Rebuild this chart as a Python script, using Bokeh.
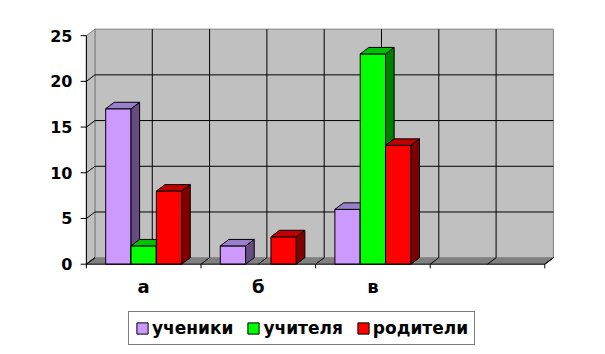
from bokeh.plotting import figure
from bokeh.models import Range1d, FixedTicker, Legend, LegendItem
from bokeh.embed import file_html
from bokeh.resources import INLINE

# ---- data ----
categories = ["а", "б", "в", ""]
series_names = ["ученики", "учителя", "родители"]
pupils = [17, 2, 6, None]
teachers = [2, 0, 23, None]
parents = [8, 3, 13, None]
y_ticks = [0, 5, 10, 15, 20, 25]

front_colors = ["#CC99FF", "#00FF00", "#FF0000"]
side_colors = ["#664C80", "#008000", "#800000"]
top_colors = ["#9980CC", "#00C000", "#C00000"]

series = [pupils, teachers, parents]
n_cat = len(categories)
y_max = max(y_ticks)

# 3D geometry (data units)
DX = 0.075
DY = 0.71
W = 0.221
OFF = (1 - len(series) * W) / 2

FONT = "DejaVu Sans"

p = figure(width=605, height=354,
           x_range=Range1d(-0.06, 4.102), y_range=Range1d(-9.877, 26.0),
           output_backend="svg", toolbar_location=None,
           min_border_left=79, min_border_right=49,
           min_border_top=26, min_border_bottom=0)
p.outline_line_color = None
p.grid.visible = False
p.background_fill_color = "white"

# back wall
p.patch([DX, n_cat + DX, n_cat + DX, DX], [DY, DY, y_max + DY, y_max + DY],
        fill_color="#C0C0C0", line_color="#808080", line_width=1)
# side wall
p.patch([0, DX, DX, 0], [0, DY, y_max + DY, y_max],
        fill_color="#C0C0C0", line_color="#808080", line_width=1)
# floor
p.patch([0, n_cat, n_cat + DX, DX], [0, 0, DY, DY],
        fill_color="#808080", line_color=None)

# horizontal gridlines on back wall and side wall
inner = [v for v in y_ticks if 0 < v < y_max]
p.segment(x0=[DX] * len(inner), y0=[v + DY for v in inner],
          x1=[n_cat + DX] * len(inner), y1=[v + DY for v in inner],
          line_color="black", line_width=1)
sw = [v for v in y_ticks if v < y_max]
p.segment(x0=[0] * len(sw), y0=sw, x1=[DX] * len(sw), y1=[v + DY for v in sw],
          line_color="black", line_width=1)

# vertical gridlines (every half category) on back wall and floor
half = [0.5 * j for j in range(1, 2 * n_cat)]
p.segment(x0=[x + DX for x in half], y0=[DY] * len(half),
          x1=[x + DX for x in half], y1=[y_max + DY] * len(half),
          line_color="black", line_width=1)
allhalf = [0.5 * j for j in range(0, 2 * n_cat + 1)]
p.segment(x0=allhalf, y0=[0] * len(allhalf),
          x1=[x + DX for x in allhalf], y1=[DY] * len(allhalf),
          line_color="black", line_width=1)

# bars
legend_items = []
for i, vals in enumerate(series):
    fx, fy, sx, sy, tx, ty = [], [], [], [], [], []
    for k, v in enumerate(vals):
        if v is None or v <= 0:
            continue
        l = k + OFF + i * W
        r = l + W
        fx.append([l, r, r, l]); fy.append([0, 0, v, v])
        sx.append([r, r + DX, r + DX, r]); sy.append([0, DY, v + DY, v])
        tx.append([l, l + DX, r + DX, r]); ty.append([v, v + DY, v + DY, v])
    fr = p.patches(fx, fy, fill_color=front_colors[i], line_color="black", line_width=1)
    p.patches(sx, sy, fill_color=side_colors[i], line_color="black", line_width=1)
    p.patches(tx, ty, fill_color=top_colors[i], line_color="black", line_width=1)
    legend_items.append(LegendItem(label=series_names[i], renderers=[fr]))

# front axis lines and ticks
p.segment(x0=[0], y0=[0], x1=[n_cat], y1=[0], line_color="black", line_width=1)
p.segment(x0=[n_cat], y0=[0], x1=[n_cat + DX], y1=[DY], line_color="black", line_width=1)
p.segment(x0=[0], y0=[0], x1=[0], y1=[y_max], line_color="black", line_width=1)
p.segment(x0=[-0.05] * len(y_ticks), y0=y_ticks, x1=[0] * len(y_ticks), y1=y_ticks,
          line_color="black", line_width=1)
ks = list(range(n_cat + 1))
p.segment(x0=ks, y0=[0] * len(ks), x1=ks, y1=[-0.45] * len(ks),
          line_color="black", line_width=1)

# axes
p.yaxis.ticker = FixedTicker(ticks=y_ticks)
p.yaxis.axis_line_color = None
p.yaxis.major_tick_line_color = None
p.yaxis.minor_tick_line_color = None
p.yaxis.major_label_standoff = 1
p.yaxis.major_label_text_font = FONT
p.yaxis.major_label_text_font_style = "bold"
p.yaxis.major_label_text_font_size = "16px"
p.yaxis.major_label_text_color = "black"

centers = [k + 0.5 for k in range(n_cat)]
p.xaxis.fixed_location = 0
p.xaxis.ticker = FixedTicker(ticks=centers)
p.xaxis.major_label_overrides = {c: lab for c, lab in zip(centers, categories)}
p.xaxis.axis_line_color = None
p.xaxis.major_tick_line_color = None
p.xaxis.minor_tick_line_color = None
p.xaxis.major_label_standoff = 6
p.xaxis.major_label_text_font = FONT
p.xaxis.major_label_text_font_style = "bold"
p.xaxis.major_label_text_font_size = "18px"
p.xaxis.major_label_text_color = "black"

legend = Legend(items=legend_items, orientation="horizontal", location=(49, 9))
legend.margin = 0
legend.padding = 6
legend.spacing = 13
legend.glyph_width = 14
legend.glyph_height = 14
legend.label_standoff = 3
legend.label_text_font = FONT
legend.label_text_font_style = "bold"
legend.label_text_font_size = "17px"
legend.label_text_color = "black"
legend.border_line_color = "black"
legend.border_line_width = 1
legend.background_fill_color = "white"
legend.background_fill_alpha = 1
p.add_layout(legend, "center")

open("out.html", "w").write(file_html(p, INLINE))
